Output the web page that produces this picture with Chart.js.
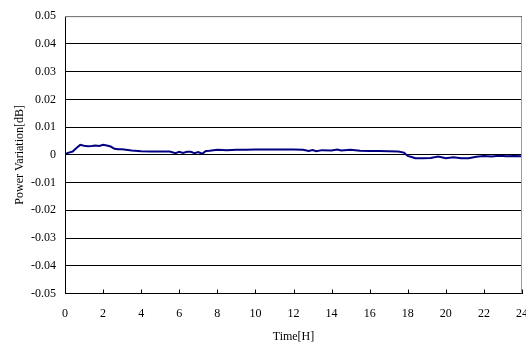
<!DOCTYPE html>
<html>
<head>
<meta charset="utf-8">
<script src="https://cdn.jsdelivr.net/npm/chart.js@4"></script>
<style>
  html, body { margin: 0; padding: 0; background: #fff; }
  #wrap { width: 526px; height: 344px; }
</style>
</head>
<body>
<div id="wrap"><canvas id="chart"></canvas></div>
<script>
// Tempo em horas e variação de potência (dB)
const hours = [0, 0.2, 0.4, 0.6, 0.8, 1.0, 1.2, 1.4, 1.6, 1.8, 2.0, 2.2, 2.4, 2.6, 2.8, 3.0,
  3.5, 4.0, 4.5, 5.0, 5.5, 5.8, 6.0, 6.2, 6.4, 6.6, 6.8, 7.0, 7.2, 7.4, 7.6, 8.0, 8.5,
  9.0, 9.5, 10.0, 10.5, 11.0, 11.5, 12.0, 12.5, 12.8, 13.0, 13.2, 13.5, 14.0, 14.3, 14.5,
  15.0, 15.5, 16.0, 16.5, 17.0, 17.5, 17.8, 18.0, 18.2, 18.4, 18.8, 19.2, 19.6, 20.0,
  20.4, 20.8, 21.2, 21.6, 22.0, 22.4, 22.8, 23.2, 23.6, 24.0];
const powerVar = [0.0003, 0.0008, 0.0012, 0.0025, 0.0036, 0.0033, 0.0031, 0.0032, 0.0034, 0.0032,
  0.0036, 0.0034, 0.0030, 0.0022, 0.0020, 0.0020,
  0.0016, 0.0013, 0.0012, 0.0012, 0.0012, 0.0006, 0.0011, 0.0007, 0.0011, 0.0011, 0.0006,
  0.0010, 0.0004, 0.0014, 0.0015, 0.0018, 0.0017,
  0.0018, 0.0018, 0.0019, 0.0019, 0.0019, 0.0019, 0.0019, 0.0018, 0.0014, 0.0017, 0.0013,
  0.0017, 0.0016, 0.0019, 0.0016,
  0.0018, 0.0015, 0.0014, 0.0014, 0.0013, 0.0012, 0.0008, -0.0004, -0.0008, -0.0012,
  -0.0012, -0.0011, -0.0006, -0.0012,
  -0.0009, -0.0012, -0.0012, -0.0007, -0.0004, -0.0006, -0.0003, -0.0005, -0.0004, -0.0005];
const yTicks = [-0.05, -0.04, -0.03, -0.02, -0.01, 0, 0.01, 0.02, 0.03, 0.04, 0.05];

const serif = "'Liberation Serif', 'Times New Roman', serif";

// Borda cinza em cima/direita e marcas do eixo x para dentro
const framePlugin = {
    id: 'frame',
    afterDraw(chart) {
        const { ctx, chartArea: a, scales } = chart;
        ctx.save();
        ctx.strokeStyle = '#999';
        ctx.lineWidth = 1;
        ctx.beginPath();
        ctx.moveTo(a.left, a.top + 0.5);
        ctx.lineTo(a.right - 0.5, a.top + 0.5);
        ctx.lineTo(a.right - 0.5, a.bottom);
        ctx.stroke();
        ctx.strokeStyle = '#000';
        ctx.beginPath();
        scales.x.ticks.forEach(t => {
            const x = Math.round(scales.x.getPixelForValue(t.value)) + 0.5;
            ctx.moveTo(x, a.bottom);
            ctx.lineTo(x, a.bottom - 4);
        });
        ctx.stroke();
        ctx.restore();
    }
};

new Chart(document.getElementById('chart').getContext('2d'), {
    type: 'line',
    data: {
        datasets: [{
            data: hours.map((h, i) => ({ x: h, y: powerVar[i] })),
            borderColor: '#000080',
            borderWidth: 2,
            pointRadius: 0,
            tension: 0,
            fill: false
        }]
    },
    options: {
        responsive: true,
        maintainAspectRatio: false,
        animation: false,
        layout: { padding: { left: 0, right: 4, top: 15, bottom: 0 } },
        plugins: { legend: { display: false }, tooltip: { enabled: false } },
        scales: {
            x: {
                type: 'linear',
                min: 0, max: 24,
                ticks: { stepSize: 2, color: '#000', padding: 5, font: { family: serif, size: 12 }, maxRotation: 0 },
                grid: { display: false },
                border: { color: '#000', width: 1 },
                title: { display: true, text: 'Time[H]', color: '#000', font: { family: serif, size: 12 }, padding: { top: 4, bottom: 0 } },
                afterFit: s => { s.height = 50.5; s.paddingLeft = 0; s.paddingRight = 0; }
            },
            y: {
                min: -0.05, max: 0.05,
                afterBuildTicks: s => { s.ticks = yTicks.map(v => ({ value: v })); },
                ticks: {
                    color: '#000', padding: 9,
                    font: { family: serif, size: 12 },
                    callback: v => (Math.abs(v) < 1e-9 ? '0' : v.toFixed(2))
                },
                grid: { color: '#000', lineWidth: 1, drawTicks: false },
                border: { color: '#000', width: 1 },
                title: { display: true, text: 'Power Variation[dB]', color: '#000', font: { family: serif, size: 12 }, padding: { top: 13, bottom: 4 } },
                afterFit: s => { s.width = 65; }
            }
        }
    },
    plugins: [framePlugin]
});
</script>
</body>
</html>
